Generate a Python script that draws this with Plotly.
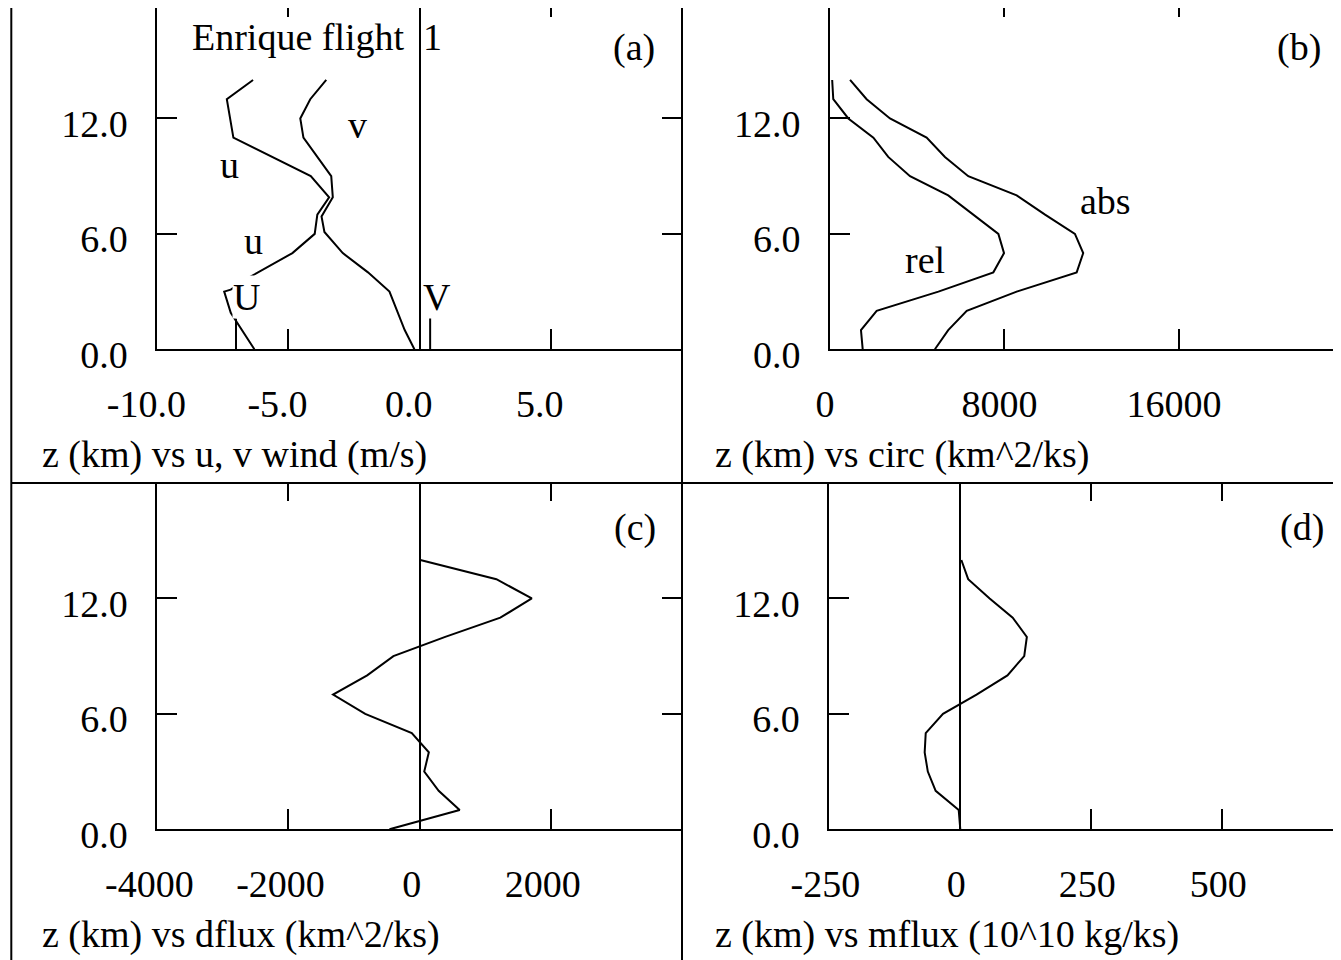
import plotly.graph_objects as go

W, H = 1341, 960
OFF = 8  # page body margin, in pixels
FONT = "Liberation Serif"
FS = 38

# ---------------- data ----------------
# panel (a): z (km) vs u, v wind (m/s)
z_u = [0.0, 1.9, 3.0, 3.1, 3.7, 5.0, 6.0, 7.0, 7.9, 9.0, 11.0, 13.0, 14.0]
u_wind = [-6.3, -7.2, -7.45, -7.2, -6.55, -4.85, -4.0, -3.9, -3.45, -4.15, -7.1, -7.35, -6.35]
z_v = [0.0, 1.0, 3.0, 4.0, 5.0, 6.1, 6.9, 7.9, 9.0, 11.0, 12.0, 13.0, 14.0]
v_wind = [-0.2, -0.57, -1.15, -1.97, -2.93, -3.63, -3.74, -3.31, -3.37, -4.43, -4.55, -4.17, -3.56]
U_mean = -7.0
V_mean = 0.4
mean_marker_z = [0.0, 1.6]

# panels (b)-(d): values at z = 0..14 km
z_km = [0, 1, 2, 3, 4, 5, 6, 7, 8, 9, 10, 11, 12, 13, 14]
circ_rel = [1500, 1420, 2140, 4970, 7490, 7980, 7720, 6570, 5420, 3670, 2670, 1990, 840, 150, 100]
circ_abs = [4810, 5420, 6270, 8560, 11310, 11610, 11230, 9860, 8560, 6340, 5270, 4430, 2750, 1680, 920]
dflux = [-460, 610, 290, 70, 140, -120, -830, -1320, -800, -400, 390, 1230, 1710, 1170, 10]
mflux = [0, -3, -47, -62, -68, -66, -33, 31, 90, 122, 127, 100, 56, 15, 2]

# tick labels
a_xticks = [-10, -5, 0, 5]
a_xlabels = ["-10.0", "-5.0", "0.0", "5.0"]
b_xticks = [0, 8000, 16000]
b_xlabels = ["0", "8000", "16000"]
c_xticks = [-4000, -2000, 0, 2000]
c_xlabels = ["-4000", "-2000", "0", "2000"]
d_xticks = [-250, 0, 250, 500]
d_xlabels = ["-250", "0", "250", "500"]
z_ticks = [0, 6, 12]
z_labels = ["0.0", "6.0", "12.0"]

titles = ["z (km) vs u, v wind (m/s)", "z (km) vs circ (km^2/ks)",
          "z (km) vs dflux (km^2/ks)", "z (km) vs mflux (10^10 kg/ks)"]

# ---------------- layout geometry (screen pixels -> paper) ----------------
def px_x(p):
    return (p - OFF) / W

def px_y(p):
    return 1 - (p - OFF) / H

panels = {
    1: ((157.3, 682.0), (349.3, 8.0), [-10, 10], [0, 17.74], a_xticks, a_xlabels, -11, 9, 20, [-5, 0, 5]),
    2: ((830.0, 1341.0), (349.3, 8.0), [0, 23430], [0, 17.74], b_xticks, b_xlabels, -5, 9, 7, [8000, 16000]),
    3: ((157.3, 682.0), (829.3, 483.0), [-4000, 4000], [0, 18], c_xticks, c_xlabels, -8, 18, 20, [-2000, 0, 2000]),
    4: ((829.3, 1341.0), (829.3, 483.0), [-250, 726.5], [0, 18], d_xticks, d_xlabels, -4, 18, 7, [0, 250, 500]),
}

fig = go.Figure()
line_style = dict(color="black", width=2)

fig.add_trace(go.Scatter(x=u_wind, y=z_u, mode="lines", line=line_style, xaxis="x", yaxis="y"))
fig.add_trace(go.Scatter(x=v_wind, y=z_v, mode="lines", line=line_style, xaxis="x", yaxis="y"))
fig.add_trace(go.Scatter(x=[U_mean, U_mean], y=mean_marker_z, mode="lines", line=line_style, xaxis="x", yaxis="y"))
fig.add_trace(go.Scatter(x=[V_mean, V_mean], y=mean_marker_z, mode="lines", line=line_style, xaxis="x", yaxis="y"))
fig.add_trace(go.Scatter(x=circ_rel, y=z_km, mode="lines", line=line_style, xaxis="x2", yaxis="y2"))
fig.add_trace(go.Scatter(x=circ_abs, y=z_km, mode="lines", line=line_style, xaxis="x2", yaxis="y2"))
fig.add_trace(go.Scatter(x=dflux, y=z_km, mode="lines", line=line_style, xaxis="x3", yaxis="y3"))
fig.add_trace(go.Scatter(x=mflux, y=z_km, mode="lines", line=line_style, xaxis="x4", yaxis="y4"))

tickfont = dict(family=FONT, size=FS, color="black")
layout = {}
for i, (xd, yd, xr, yr, xt, xl, xs, toplen, rightlen, topt) in panels.items():
    sfx = "" if i == 1 else str(i)
    xdom = [px_x(xd[0]), min(1.0, px_x(xd[1]))]
    ydom = [px_y(yd[0]), min(1.0, px_y(yd[1]))]
    zero_x = i != 2
    layout["xaxis" + sfx] = dict(
        domain=xdom, range=xr, anchor="y" + sfx, showgrid=False, automargin=False,
        showline=True, linecolor="black", linewidth=2,
        ticks="inside", ticklen=20, tickwidth=2, tickcolor="black",
        tickmode="array", tickvals=xt, ticktext=xl, tickfont=tickfont,
        ticklabelstandoff=20, ticklabelshift=xs,
        zeroline=zero_x, zerolinecolor="black", zerolinewidth=2,
    )
    layout["yaxis" + sfx] = dict(
        domain=ydom, range=yr, anchor="x" + sfx, showgrid=False, automargin=False,
        showline=True, linecolor="black", linewidth=2,
        ticks="inside", ticklen=20, tickwidth=2, tickcolor="black",
        tickmode="array", tickvals=z_ticks, ticktext=z_labels, tickfont=tickfont,
        ticklabelstandoff=20, ticklabelshift=5, zeroline=False,
    )
    tx = str(i + 4)
    layout["xaxis" + tx] = dict(
        overlaying="x" + sfx, anchor="y" + sfx, side="top", range=xr, automargin=False,
        showgrid=False, showline=False, zeroline=False, showticklabels=False,
        ticks="inside", ticklen=toplen, tickwidth=2, tickcolor="black",
        tickmode="array", tickvals=topt,
    )
    layout["yaxis" + tx] = dict(
        overlaying="y" + sfx, anchor="x" + sfx, side="right", range=yr, automargin=False,
        showgrid=False, showline=False, zeroline=False, showticklabels=False,
        ticks="inside", ticklen=rightlen, tickwidth=2, tickcolor="black",
        tickmode="array", tickvals=z_ticks,
    )
    fig.add_trace(go.Scatter(x=[], y=[], xaxis="x" + tx, yaxis="y" + sfx, hoverinfo="skip"))
    fig.add_trace(go.Scatter(x=[], y=[], xaxis="x" + sfx, yaxis="y" + tx, hoverinfo="skip"))

fig.update_layout(**layout)

annfont = dict(family=FONT, size=FS, color="black")
annotations = []

def label(text, x, y, ref, bg=None, xanchor="center"):
    d = dict(text=text, x=x, y=y, xref="x" + ref, yref="y" + ref, showarrow=False,
             font=annfont, xanchor=xanchor, yanchor="middle", borderpad=0)
    if bg:
        d["bgcolor"] = bg
    annotations.append(d)

label("Enrique flight\u00a0 1", -3.93, 16.22, "")
label("(a)", 8.17, 15.71, "")
label("v", -2.37, 11.66, "")
label("u", -7.25, 9.58, "")
label("u", -6.34, 5.65, "")
label("U", -6.61, 2.71, "", bg="white")
label("V", 0.67, 2.71, "")
label("(b)", 21500, 15.71, "2")
label("abs", 12650, 7.73, "2")
label("rel", 4360, 4.62, "2")
label("(c)", 3280, 15.71, "3")
label("(d)", 653, 15.71, "4")

title_pos = [(40, 454), (713, 454), (40, 934), (713, 934)]
for t, (tx_, ty_) in zip(titles, title_pos):
    annotations.append(dict(text=t, x=px_x(tx_), y=px_y(ty_), xref="paper", yref="paper",
                            showarrow=False, font=annfont, xanchor="left", yanchor="middle"))

shapes = [
    dict(type="line", xref="paper", yref="paper", x0=px_x(11.3), x1=px_x(11.3), y0=0, y1=1,
         line=dict(color="black", width=2)),
    dict(type="line", xref="paper", yref="paper", x0=px_x(682), x1=px_x(682), y0=0, y1=1,
         line=dict(color="black", width=2)),
    dict(type="line", xref="paper", yref="paper", x0=px_x(11.3), x1=1, y0=px_y(483), y1=px_y(483),
         line=dict(color="black", width=2)),
]

fig.update_layout(
    width=W, height=H, autosize=False,
    margin=dict(l=0, r=0, t=0, b=0, pad=0, autoexpand=False),
    paper_bgcolor="white", plot_bgcolor="white",
    showlegend=False,
    annotations=annotations, shapes=shapes,
    font=dict(family=FONT, size=FS, color="black"),
)

fig.write_html("out.html")
